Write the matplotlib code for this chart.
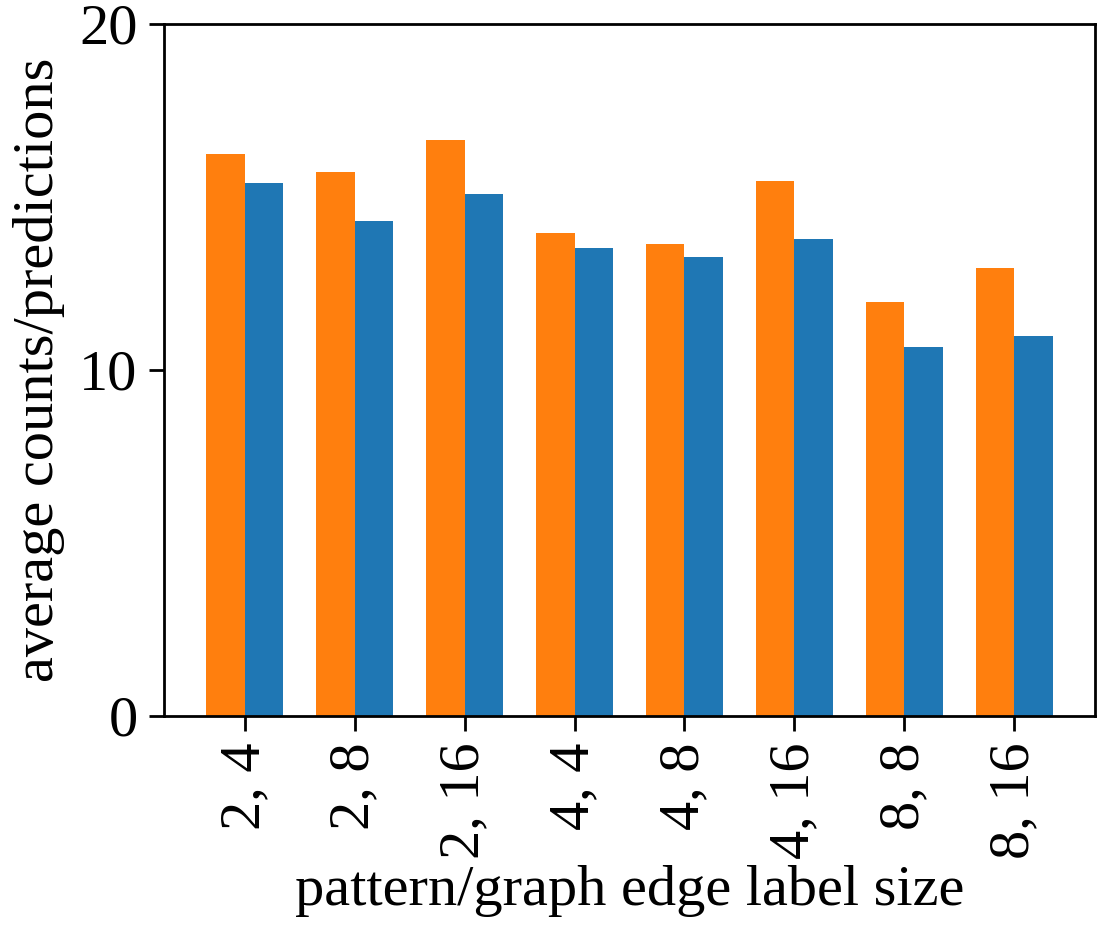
import numpy as np
import matplotlib
matplotlib.use("Agg")
import matplotlib.pyplot as plt

plt.rcParams['font.family'] = ['Liberation Serif', 'DejaVu Serif']
plt.rcParams['font.size'] = 42

labels = ["2, 4", "2, 8", "2, 16", "4, 4", "4, 8", "4, 16", "8, 8", "8, 16"]
counts = [16.24, 15.72, 16.65, 13.96, 13.64, 15.46, 11.97, 12.95]       # orange
predictions = [15.40, 14.31, 15.09, 13.53, 13.27, 13.79, 10.66, 10.98]  # blue

w = 0.35
x = np.arange(len(labels))

fig = plt.figure(figsize=(11.03, 9.4), dpi=100)
ax = fig.add_axes([0.1487, 0.2383, 0.8440, 0.7362])
ax.bar(x - w / 2, counts, w, color='#ff7f0e')
ax.bar(x + w / 2, predictions, w, color='#1f77b4')

ax.set_ylim(0, 20)
ax.set_yticks([0, 10, 20])
ax.set_xticks(x)
ax.set_xticklabels(labels, rotation=90)
ax.tick_params(length=11, width=2, labelsize=42, pad=8)
for s in ax.spines.values():
    s.set_linewidth(2)

ax.set_xlabel("pattern/graph edge label size", fontsize=42, labelpad=4)
ax.set_ylabel("average counts/predictions", fontsize=42, labelpad=10)

fig.savefig("out.png", dpi=100)
